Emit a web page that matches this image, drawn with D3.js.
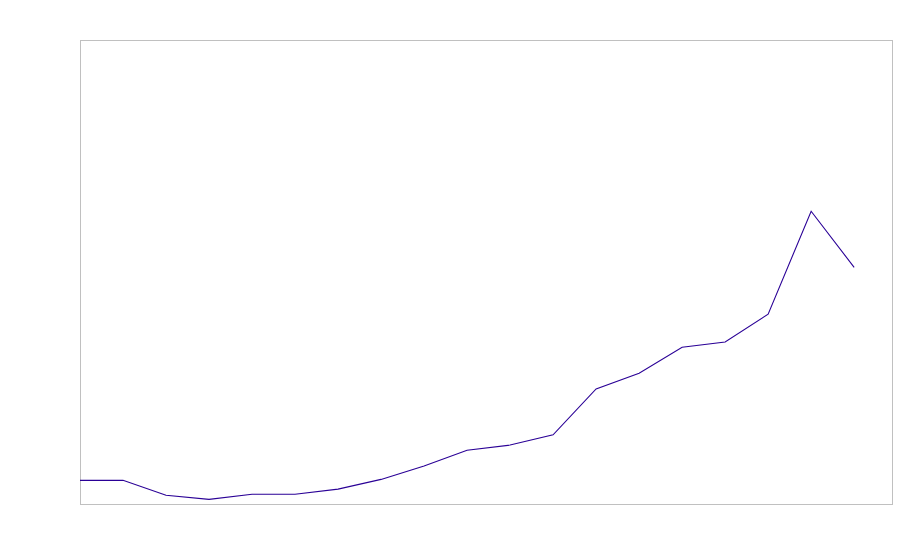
<!DOCTYPE html>
<html lang="en">
<head>
  <meta charset="UTF-8">
  <title>Line chart</title>
  <script src="https://d3js.org/d3.v7.min.js"></script>
  <style>
    body { margin: 0; background: #fff; }
  </style>
</head>
<body>

<script>
  // Series values (arbitrary 0-100 units)
  const categories = d3.range(19);
  const values = [5.1, 5.1, 1.9, 1.0, 2.1, 2.1, 3.2, 5.3, 8.2, 11.6, 12.7, 14.9,
                  24.8, 28.2, 33.8, 34.9, 40.9, 63.1, 51.0];

  const width = 900;
  const height = 560;
  const margin = { top: 40, right: 8, bottom: 56, left: 80 };
  const innerW = width - margin.left - margin.right;
  const innerH = height - margin.top - margin.bottom;

  const svg = d3.select('body').append('svg')
    .attr('width', width)
    .attr('height', height);

  const g = svg.append('g')
    .attr('transform', `translate(${margin.left},${margin.top})`);

  // x runs a bit past the last point, as in the reference
  const x = d3.scaleLinear()
    .domain([0, 18.88])
    .range([0, innerW]);

  const y = d3.scaleLinear()
    .domain([0, 100])
    .range([innerH, 0]);

  // Plot frame
  g.append('rect')
    .attr('x', 0.5)
    .attr('y', 0.5)
    .attr('width', innerW)
    .attr('height', innerH)
    .attr('fill', 'none')
    .attr('stroke', '#c0c0c0')
    .attr('stroke-width', 1);

  const line = d3.line()
    .x((d, i) => x(categories[i]))
    .y(d => y(d));

  g.append('path')
    .datum(values)
    .attr('d', line)
    .attr('fill', 'none')
    .attr('stroke', '#2a0096')
    .attr('stroke-width', 1.1);
</script>

</body>
</html>
